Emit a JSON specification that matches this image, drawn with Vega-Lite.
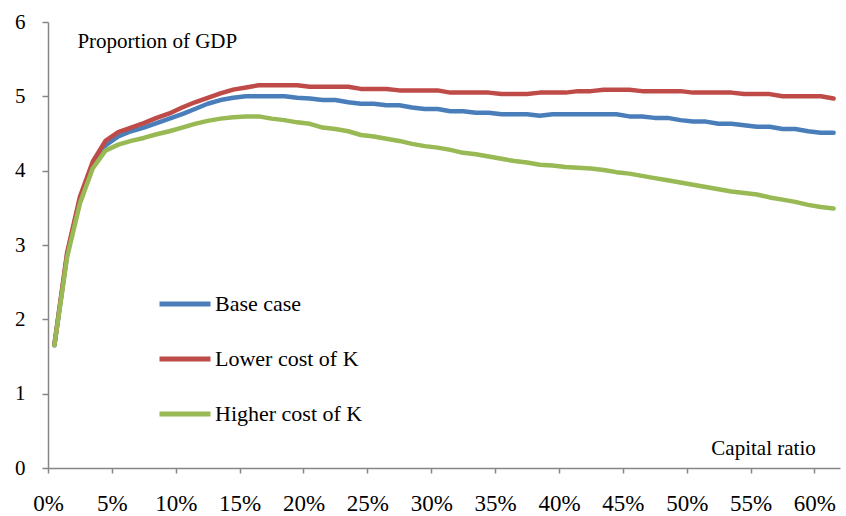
{
  "$schema": "https://vega.github.io/schema/vega-lite/v6.json",
  "description": "Proportion of GDP by capital ratio, three cost-of-capital cases",
  "width": 792,
  "height": 446,
  "autosize": {"type": "none"},
  "padding": {"left": 48, "top": 22, "right": 6, "bottom": 48},
  "background": "white",
  "config": {
    "view": {"stroke": null},
    "font": "Liberation Serif"
  },
  "data": {
    "values": [
      {"x": 0.005, "Base case": 1.65, "Lower cost of K": 1.66, "Higher cost of K": 1.65},
      {"x": 0.015, "Base case": 2.88, "Lower cost of K": 2.90, "Higher cost of K": 2.84},
      {"x": 0.025, "Base case": 3.62, "Lower cost of K": 3.65, "Higher cost of K": 3.56},
      {"x": 0.035, "Base case": 4.08, "Lower cost of K": 4.12, "Higher cost of K": 4.03},
      {"x": 0.045, "Base case": 4.34, "Lower cost of K": 4.40, "Higher cost of K": 4.27},
      {"x": 0.055, "Base case": 4.46, "Lower cost of K": 4.52, "Higher cost of K": 4.35},
      {"x": 0.065, "Base case": 4.53, "Lower cost of K": 4.58, "Higher cost of K": 4.40},
      {"x": 0.075, "Base case": 4.58, "Lower cost of K": 4.64, "Higher cost of K": 4.44},
      {"x": 0.085, "Base case": 4.64, "Lower cost of K": 4.71, "Higher cost of K": 4.49},
      {"x": 0.095, "Base case": 4.70, "Lower cost of K": 4.77, "Higher cost of K": 4.53},
      {"x": 0.105, "Base case": 4.76, "Lower cost of K": 4.85, "Higher cost of K": 4.58},
      {"x": 0.115, "Base case": 4.83, "Lower cost of K": 4.92, "Higher cost of K": 4.63},
      {"x": 0.125, "Base case": 4.90, "Lower cost of K": 4.98, "Higher cost of K": 4.67},
      {"x": 0.135, "Base case": 4.95, "Lower cost of K": 5.04, "Higher cost of K": 4.70},
      {"x": 0.145, "Base case": 4.98, "Lower cost of K": 5.09, "Higher cost of K": 4.72},
      {"x": 0.155, "Base case": 5.00, "Lower cost of K": 5.12, "Higher cost of K": 4.73},
      {"x": 0.165, "Base case": 5.00, "Lower cost of K": 5.15, "Higher cost of K": 4.73},
      {"x": 0.175, "Base case": 5.00, "Lower cost of K": 5.15, "Higher cost of K": 4.70},
      {"x": 0.185, "Base case": 5.00, "Lower cost of K": 5.15, "Higher cost of K": 4.68},
      {"x": 0.195, "Base case": 4.98, "Lower cost of K": 5.15, "Higher cost of K": 4.65},
      {"x": 0.205, "Base case": 4.97, "Lower cost of K": 5.13, "Higher cost of K": 4.63},
      {"x": 0.215, "Base case": 4.95, "Lower cost of K": 5.13, "Higher cost of K": 4.58},
      {"x": 0.225, "Base case": 4.95, "Lower cost of K": 5.13, "Higher cost of K": 4.56},
      {"x": 0.235, "Base case": 4.92, "Lower cost of K": 5.13, "Higher cost of K": 4.53},
      {"x": 0.245, "Base case": 4.90, "Lower cost of K": 5.10, "Higher cost of K": 4.48},
      {"x": 0.255, "Base case": 4.90, "Lower cost of K": 5.10, "Higher cost of K": 4.46},
      {"x": 0.265, "Base case": 4.88, "Lower cost of K": 5.10, "Higher cost of K": 4.43},
      {"x": 0.275, "Base case": 4.88, "Lower cost of K": 5.08, "Higher cost of K": 4.40},
      {"x": 0.285, "Base case": 4.85, "Lower cost of K": 5.08, "Higher cost of K": 4.36},
      {"x": 0.295, "Base case": 4.83, "Lower cost of K": 5.08, "Higher cost of K": 4.33},
      {"x": 0.305, "Base case": 4.83, "Lower cost of K": 5.08, "Higher cost of K": 4.31},
      {"x": 0.315, "Base case": 4.80, "Lower cost of K": 5.05, "Higher cost of K": 4.28},
      {"x": 0.325, "Base case": 4.80, "Lower cost of K": 5.05, "Higher cost of K": 4.24},
      {"x": 0.335, "Base case": 4.78, "Lower cost of K": 5.05, "Higher cost of K": 4.22},
      {"x": 0.345, "Base case": 4.78, "Lower cost of K": 5.05, "Higher cost of K": 4.19},
      {"x": 0.355, "Base case": 4.76, "Lower cost of K": 5.03, "Higher cost of K": 4.16},
      {"x": 0.365, "Base case": 4.76, "Lower cost of K": 5.03, "Higher cost of K": 4.13},
      {"x": 0.375, "Base case": 4.76, "Lower cost of K": 5.03, "Higher cost of K": 4.11},
      {"x": 0.385, "Base case": 4.74, "Lower cost of K": 5.05, "Higher cost of K": 4.08},
      {"x": 0.395, "Base case": 4.76, "Lower cost of K": 5.05, "Higher cost of K": 4.07},
      {"x": 0.405, "Base case": 4.76, "Lower cost of K": 5.05, "Higher cost of K": 4.05},
      {"x": 0.415, "Base case": 4.76, "Lower cost of K": 5.07, "Higher cost of K": 4.04},
      {"x": 0.425, "Base case": 4.76, "Lower cost of K": 5.07, "Higher cost of K": 4.03},
      {"x": 0.435, "Base case": 4.76, "Lower cost of K": 5.09, "Higher cost of K": 4.01},
      {"x": 0.445, "Base case": 4.76, "Lower cost of K": 5.09, "Higher cost of K": 3.98},
      {"x": 0.455, "Base case": 4.73, "Lower cost of K": 5.09, "Higher cost of K": 3.96},
      {"x": 0.465, "Base case": 4.73, "Lower cost of K": 5.07, "Higher cost of K": 3.93},
      {"x": 0.475, "Base case": 4.71, "Lower cost of K": 5.07, "Higher cost of K": 3.90},
      {"x": 0.485, "Base case": 4.71, "Lower cost of K": 5.07, "Higher cost of K": 3.87},
      {"x": 0.495, "Base case": 4.68, "Lower cost of K": 5.07, "Higher cost of K": 3.84},
      {"x": 0.505, "Base case": 4.66, "Lower cost of K": 5.05, "Higher cost of K": 3.81},
      {"x": 0.515, "Base case": 4.66, "Lower cost of K": 5.05, "Higher cost of K": 3.78},
      {"x": 0.525, "Base case": 4.63, "Lower cost of K": 5.05, "Higher cost of K": 3.75},
      {"x": 0.535, "Base case": 4.63, "Lower cost of K": 5.05, "Higher cost of K": 3.72},
      {"x": 0.545, "Base case": 4.61, "Lower cost of K": 5.03, "Higher cost of K": 3.70},
      {"x": 0.555, "Base case": 4.59, "Lower cost of K": 5.03, "Higher cost of K": 3.68},
      {"x": 0.565, "Base case": 4.59, "Lower cost of K": 5.03, "Higher cost of K": 3.64},
      {"x": 0.575, "Base case": 4.56, "Lower cost of K": 5.00, "Higher cost of K": 3.61},
      {"x": 0.585, "Base case": 4.56, "Lower cost of K": 5.00, "Higher cost of K": 3.58},
      {"x": 0.595, "Base case": 4.53, "Lower cost of K": 5.00, "Higher cost of K": 3.54},
      {"x": 0.605, "Base case": 4.51, "Lower cost of K": 5.00, "Higher cost of K": 3.51},
      {"x": 0.615, "Base case": 4.51, "Lower cost of K": 4.97, "Higher cost of K": 3.49}
    ]
  },
  "layer": [
    {
      "transform": [
        {"fold": ["Base case", "Lower cost of K", "Higher cost of K"], "as": ["series", "value"]}
      ],
      "mark": {"type": "line", "strokeWidth": 4.5, "strokeCap": "round", "strokeJoin": "round"},
      "encoding": {
        "x": {
          "field": "x",
          "type": "quantitative",
          "scale": {"domain": [0, 0.62], "nice": false, "zero": false},
          "axis": {
            "values": [0, 0.05, 0.1, 0.15, 0.2, 0.25, 0.3, 0.35, 0.4, 0.45, 0.5, 0.55, 0.6],
            "format": ".0%",
            "title": null,
            "grid": false,
            "domainColor": "#868686",
            "domainWidth": 1.5,
            "tickColor": "#868686",
            "tickWidth": 1.5,
            "tickSize": 5,
            "labelFont": "Liberation Serif",
            "labelFontSize": 23,
            "labelColor": "black",
            "labelPadding": 19,
            "labelDx": 6,
            "labelFlush": false,
            "labelOverlap": false
          }
        },
        "y": {
          "field": "value",
          "type": "quantitative",
          "scale": {"domain": [0, 6], "nice": false},
          "axis": {
            "values": [0, 1, 2, 3, 4, 5, 6],
            "format": "d",
            "title": null,
            "grid": false,
            "domainColor": "#868686",
            "domainWidth": 1.5,
            "tickColor": "#868686",
            "tickWidth": 1.5,
            "tickSize": 6,
            "labelFont": "Liberation Serif",
            "labelFontSize": 21,
            "labelColor": "black",
            "labelPadding": 17,
            "labelFlush": false
          }
        },
        "color": {
          "field": "series",
          "type": "nominal",
          "sort": ["Base case", "Lower cost of K", "Higher cost of K"],
          "scale": {
            "domain": ["Base case", "Lower cost of K", "Higher cost of K"],
            "range": ["#4a7ebb", "#be4b48", "#98b954"]
          },
          "legend": {
            "title": null,
            "orient": "none",
            "legendX": 109,
            "legendY": 254,
            "padding": 0,
            "symbolType": "stroke",
            "symbolSize": 2600,
            "symbolStrokeWidth": 5,
            "rowPadding": 16,
            "labelOffset": 2,
            "labelFont": "Liberation Serif",
            "labelFontSize": 22,
            "labelColor": "black",
            "labelLimit": 300
          }
        }
      }
    },
    {
      "data": {"values": [{}]},
      "mark": {"type": "text", "align": "left", "baseline": "middle", "font": "Liberation Serif", "fontSize": 21, "color": "black"},
      "encoding": {
        "x": {"datum": 0.023},
        "y": {"datum": 5.73},
        "text": {"value": "Proportion of GDP"}
      }
    },
    {
      "data": {"values": [{}]},
      "mark": {"type": "text", "align": "right", "baseline": "middle", "font": "Liberation Serif", "fontSize": 21, "color": "black"},
      "encoding": {
        "x": {"datum": 0.601},
        "y": {"datum": 0.25},
        "text": {"value": "Capital ratio"}
      }
    }
  ]
}
